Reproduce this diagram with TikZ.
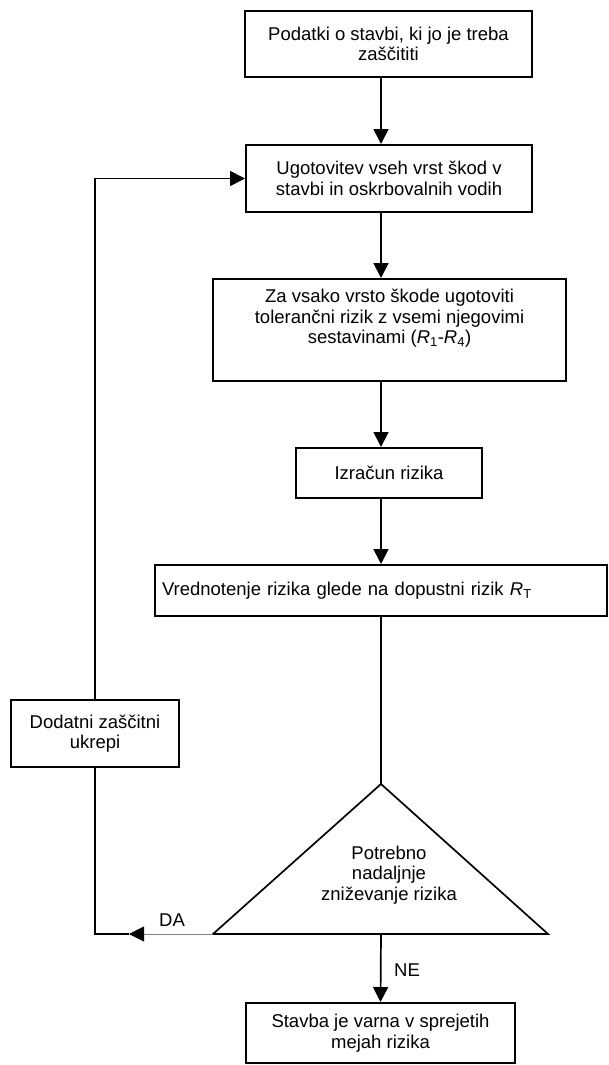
\documentclass[tikz,border=0pt]{standalone}
\usepackage{fontspec}
\setmainfont{Liberation Sans}
\usetikzlibrary{arrows.meta}
\begin{document}
\begin{tikzpicture}[x=1pt,y=-1pt]
\tikzstyle{every node}+=[font=\fontsize{18.5}{20.5}\selectfont, align=center]
\tikzstyle{box}=[draw, line width=2pt, inner sep=0pt]
\tikzstyle{link}=[line width=1.7pt]
\tikzstyle{flow}=[link, -{Triangle[length=15pt,width=15pt]}]
\useasboundingbox (0,0) rectangle (609,1065);
\coordinate (axis) at (381,0);
% main column
\node[box, minimum width=287, minimum height=66] (b1) at (388.5,44) {Podatki o stavbi, ki jo je treba\\zaščititi};
\node[box, minimum width=286, minimum height=67] (b2) at (389,178.5) {Ugotovitev vseh vrst škod v\\stavbi in oskrbovalnih vodih};
\node[box, minimum width=353, minimum height=102] (b3) at (389.5,330) {Za vsako vrsto škode ugotoviti\\tolerančni rizik z vsemi njegovimi\\sestavinami (\textit{R}\textsubscript{1}-\textit{R}\textsubscript{4})\\[6pt]};
\node[box, minimum width=186, minimum height=50] (b4) at (389,473) {Izračun rizika};
\node[box, minimum width=452, minimum height=51, inner xsep=7pt, text width=438, align=left] (b5) at (381,590.5) {Vrednotenje rizika glede na dopustni rizik \textit{R}\textsubscript{T}\\[-6pt]};
\node[box, minimum width=269, minimum height=60] (b6) at (380.5,1033) {Stavba je varna v sprejetih\\mejah rizika};
\node[box, minimum width=168, minimum height=67] (add) at (95,733.5) {Dodatni zaščitni\\ukrepi};
% decision
\coordinate (apex) at (381,784);
\coordinate (tl) at (213,934);
\coordinate (tr) at (548,934);
\coordinate (tb) at (381,934);
\coordinate (dahead) at (129,934);
\draw[link] (apex) -- (tl) -- (tr) -- cycle;
\node (dec) at (389,875) {Potrebno\\nadaljnje\\zniževanje rizika};
% connectors
\draw[flow] (b1.south -| axis) -- (b2.north -| axis);
\draw[flow] (b2.south -| axis) -- (b3.north -| axis);
\draw[flow] (b3.south -| axis) -- (b4.north -| axis);
\draw[flow] (b4.south -| axis) -- (b5.north -| axis);
\draw[link] (b5.south -| axis) -- (apex);
\draw[flow] (tb) -- (b6.north);
\node (ne) at (407,970) {NE};
\draw[gray, line width=0.8pt, -{Triangle[length=15pt,width=15pt,black]}] (tl) -- (dahead);
\node (da) at (172,920) {DA};
\draw[link] (dahead) -| (add.south);
\draw[flow] (add.north) |- (b2.west);
\end{tikzpicture}
\end{document}
